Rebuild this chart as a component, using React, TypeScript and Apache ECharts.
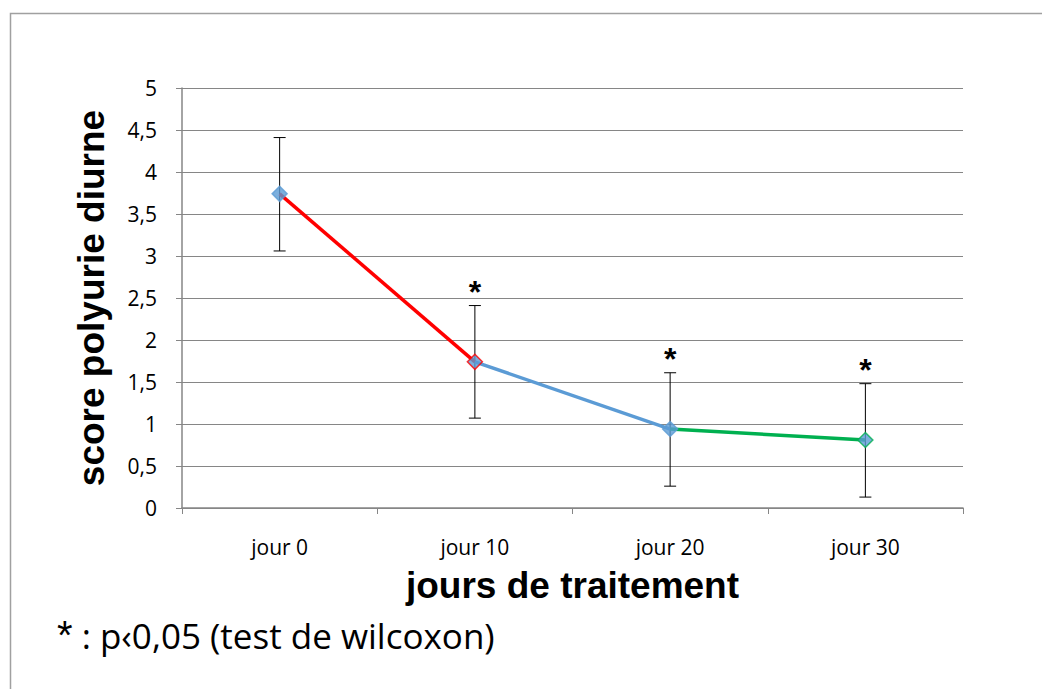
import React, { useEffect, useRef } from "react";
import * as echarts from "echarts";

const categories = ["jour 0", "jour 10", "jour 20", "jour 30"];
const means = [3.74, 1.74, 0.94, 0.81];
const lower = [3.06, 1.07, 0.26, 0.13];
const upper = [4.41, 2.41, 1.61, 1.48];
const segmentColors = ["#ff0000", "#5b9bd5", "#00b050"];
const markerBorders = ["#5b9bd5", "#ff0000", "#5b9bd5", "#00b050"];
const significant = [false, true, true, true];

export default function App() {
  const ref = useRef<HTMLDivElement>(null);
  useEffect(() => {
    document.body.style.margin = "0";
    const chart = echarts.init(ref.current!, null, { renderer: "svg" });

    const segSeries = segmentColors.map((c, i) => ({
      type: "line",
      data: means.map((v, j) => (j === i || j === i + 1 ? v : null)),
      symbol: "none",
      lineStyle: { color: c, width: 3.5 },
      z: 3,
      silent: true,
    }));

    const option: any = {
      animation: false,
      backgroundColor: "#ffffff",
      grid: { left: 182, right: 79, top: 88, bottom: 181 },
      xAxis: {
        type: "category",
        data: categories,
        boundaryGap: true,
        axisLine: { lineStyle: { color: "#868686", width: 1.5 } },
        axisTick: { show: true, length: 6, lineStyle: { color: "#868686" } },
        axisLabel: { color: "#000", fontSize: 21, fontFamily: "Open Sans", margin: 28 },
        name: "jours de traitement",
        nameLocation: "middle",
        nameGap: 59,
        nameTextStyle: { color: "#000", fontSize: 37, fontWeight: "bold", fontFamily: "Liberation Sans" },
      },
      yAxis: {
        type: "value",
        min: 0,
        max: 5,
        interval: 0.5,
        axisLine: { show: true, lineStyle: { color: "#868686", width: 1.5 } },
        axisTick: { show: true, length: 6, lineStyle: { color: "#868686" } },
        splitLine: { lineStyle: { color: "#868686", width: 1 } },
        axisLabel: {
          color: "#000",
          fontSize: 21,
          fontFamily: "Open Sans",
          margin: 25,
          formatter: (v: number) => String(v).replace(".", ","),
        },
        name: "score polyurie diurne",
        nameLocation: "middle",
        nameGap: 72,
        nameTextStyle: { color: "#000", fontSize: 37, fontWeight: "bold", fontFamily: "Liberation Sans" },
      },
      series: [
        {
          type: "custom",
          z: 2,
          data: categories.map((_, i) => [i, lower[i], upper[i], means[i], significant[i] ? 1 : 0]),
          renderItem: (params: any, api: any) => {
            const x = api.value(0);
            const lo = api.coord([x, api.value(1)]);
            const hi = api.coord([x, api.value(2)]);
            const cap = 6;
            const children: any[] = [
              { type: "line", shape: { x1: lo[0], y1: lo[1], x2: hi[0], y2: hi[1] }, style: { stroke: "#000", lineWidth: 1 } },
              { type: "line", shape: { x1: lo[0] - cap, y1: lo[1], x2: lo[0] + cap, y2: lo[1] }, style: { stroke: "#000", lineWidth: 1 } },
              { type: "line", shape: { x1: hi[0] - cap, y1: hi[1], x2: hi[0] + cap, y2: hi[1] }, style: { stroke: "#000", lineWidth: 1 } },
            ];
            if (api.value(4) === 1) {
              children.push({
                type: "text",
                style: {
                  text: "*",
                  x: hi[0],
                  y: hi[1] + 2,
                  align: "center",
                  verticalAlign: "bottom",
                  fill: "#000",
                  font: "bold 32px Liberation Sans",
                },
              });
            }
            return { type: "group", children };
          },
        },
        ...segSeries,
        {
          type: "scatter",
          z: 4,
          symbol: "diamond",
          symbolSize: 15,
          data: means.map((v, i) => ({
            value: v,
            itemStyle: { color: "#5b9bd5", borderColor: markerBorders[i], borderWidth: 1.5 },
          })),
        },
      ],
      graphic: [
        {
          type: "polyline",
          shape: { points: [[10.5, 700], [10.5, 13.5], [1042, 13.5]] },
          style: { stroke: "#a0a0a0", lineWidth: 1.5, fill: "none" },
        },
        {
          type: "text",
          left: 57,
          top: 615,
          style: {
            text: "{a|*} : p‹0,05 (test de wilcoxon)",
            fill: "#000",
            font: "35px Open Sans",
            rich: { a: { font: "40px Liberation Sans", fill: "#000" } },
          },
        },
      ],
    };
    chart.setOption(option);
    return () => chart.dispose();
  }, []);
  return <div ref={ref} style={{ width: 1042, height: 689 }} />;
}
